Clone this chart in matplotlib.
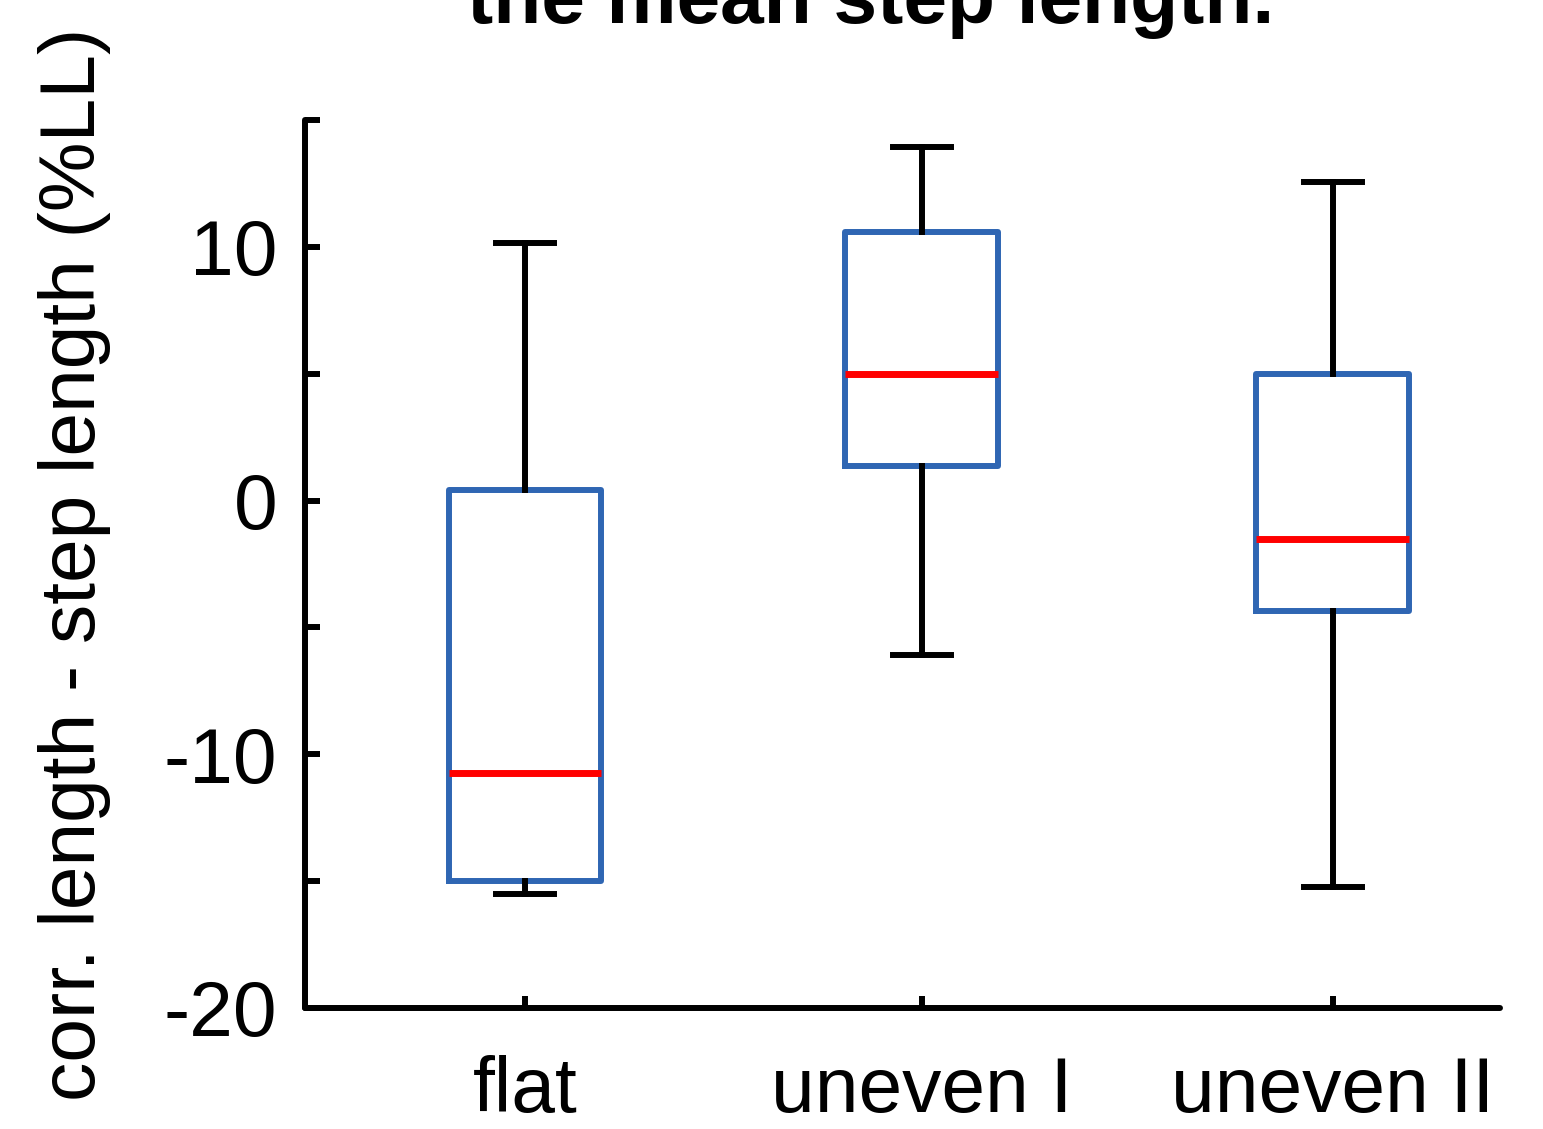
import matplotlib
matplotlib.use('Agg')
import matplotlib.pyplot as plt

# data
labels = ['flat', 'uneven I', 'uneven II']
positions = [1, 2, 3.035]
whis_lo = [-15.5, -6.1, -15.25]
q1 = [-15.0, 1.38, -4.34]
med = [-10.72, 4.97, -1.5]
q3 = [0.43, 10.6, 5.0]
whis_hi = [10.17, 13.95, 12.57]

yticks = [-20, -15, -10, -5, 0, 5, 10, 15]
yticklabels = ['-20', '', '-10', '', '0', '', '10', '']

plt.rcParams['font.family'] = ['Liberation Sans', 'DejaVu Sans']
fs = 56.5

fig = plt.figure(figsize=(15.43, 11.29), dpi=100)
ax = fig.add_axes([0.1977, 0.1072, 0.7743, 0.7865])

stats = []
for i in range(len(labels)):
    stats.append({'label': labels[i], 'med': med[i], 'q1': q1[i], 'q3': q3[i],
                  'whislo': whis_lo[i], 'whishi': whis_hi[i], 'fliers': []})

lw = 4.3
ax.bxp(stats, positions=positions, widths=0.385, capwidths=0.146,
       showfliers=False,
       boxprops=dict(color='#2f66b3', linewidth=lw),
       medianprops=dict(color='#ff0000', linewidth=5.0),
       whiskerprops=dict(color='black', linewidth=lw, linestyle='-'),
       capprops=dict(color='black', linewidth=lw))

ax.set_xlim(0.446, 3.456)
ax.set_ylim(-20, 15)
ax.set_yticks(yticks)
ax.set_yticklabels(yticklabels)
ax.set_xticks(positions)
ax.set_xticklabels(labels)

for s in ['top', 'right']:
    ax.spines[s].set_visible(False)
for s in ['left', 'bottom']:
    ax.spines[s].set_linewidth(lw)
    ax.spines[s].set_capstyle('round')

ax.tick_params(axis='y', direction='in', length=10.5, width=lw, labelsize=fs, pad=20)
ax.tick_params(axis='x', direction='in', length=9, width=lw, labelsize=fs, pad=34)

fig.text(75 / 1543, 0.5, 'corr. length - step length (%LL)', rotation=90,
         ha='center', va='center', fontsize=fs)
# title is cut at the top edge, as in the source image
fig.text(871 / 1543, 1 - 23 / 1129, 'the mean step length.', ha='center',
         va='baseline', fontsize=fs, fontweight='bold')

fig.savefig('out.png', dpi=100)
